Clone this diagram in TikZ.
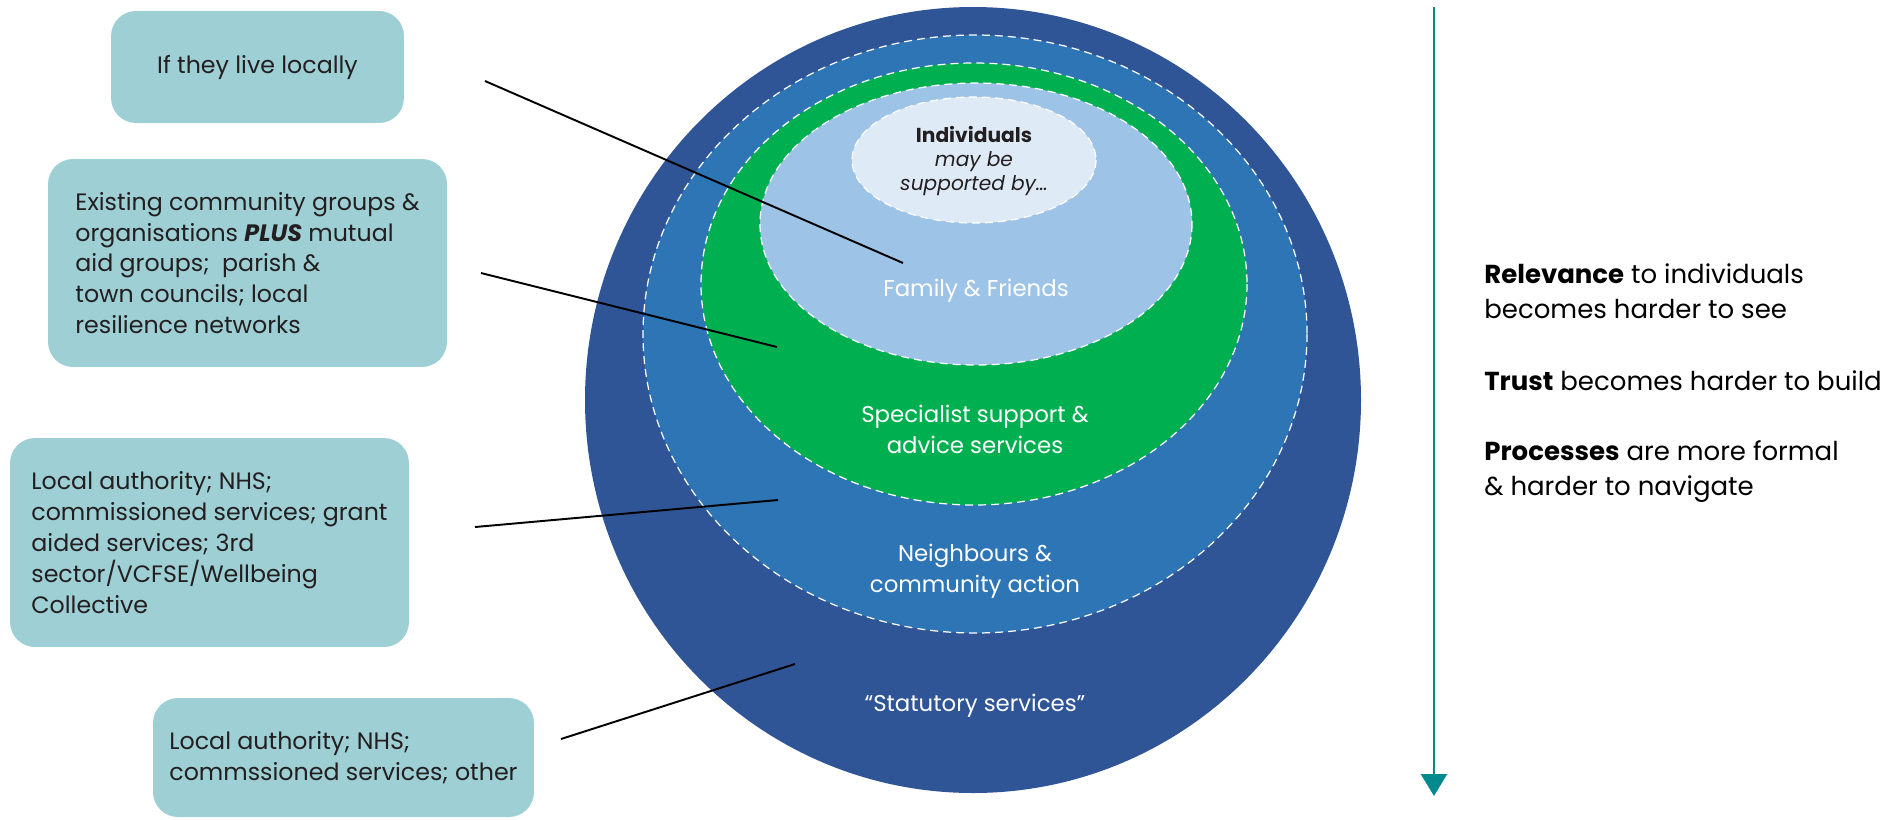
\documentclass[tikz,border=0pt]{standalone}
\usepackage{fontspec}
\setmainfont{Poppins}
\usepackage{tikz}
\usetikzlibrary{arrows.meta}

\definecolor{statblue}{HTML}{2F5597}
\definecolor{commblue}{HTML}{2E75B6}
\definecolor{specgreen}{HTML}{00B050}
\definecolor{famblue}{HTML}{9DC3E6}
\definecolor{indblue}{HTML}{DEEBF7}
\definecolor{boxteal}{HTML}{9DCFD4}
\definecolor{arrowteal}{HTML}{00898F}
\definecolor{ink}{HTML}{231F20}

\begin{document}
\begin{tikzpicture}[x=0.02cm, y=-0.02cm,
  ring/.style={draw=white, line width=0.7pt, dash pattern=on 0.16cm off 0.1cm},
  callout/.style={fill=boxteal, rounded corners=0.5cm, align=left, text=ink,
    font=\fontsize{13.5}{17.6}\selectfont},
  tag/.style={text=white, align=center, font=\fontsize{13}{17.6}\selectfont},
  leader/.style={draw=black, line width=1.1pt},
  effect/.style={anchor=west, align=left, inner sep=0pt, text=black,
    font=\fontsize{14.8}{19.9}\selectfont}]
  \useasboundingbox (0,0) rectangle (1901,819);

  % nested circles of support
  \fill[statblue] (973,400) ellipse [x radius=388, y radius=393];
  \filldraw[fill=commblue, ring] (975,334) ellipse [x radius=332, y radius=299];
  \filldraw[fill=specgreen, ring] (974,284) ellipse [x radius=273, y radius=221];
  \filldraw[fill=famblue, ring] (976,224) ellipse [x radius=216, y radius=141];
  \filldraw[fill=indblue, ring] (974,160) ellipse [x radius=122, y radius=63];

  \node[align=center, text=ink, font=\fontsize{11.5}{13.9}\selectfont] (ind) at (974,161)
    {\textbf{Individuals}\\\textit{may be}\\\textit{supported by\ldots}};
  \node[tag] (fam) at (976,291) {Family \& Friends};
  \node[tag] (spec) at (975,429) {Specialist support \&\\advice services};
  \node[tag] (neigh) at (975,571) {Neighbours \&\\community action};
  \node[tag] (stat) at (975,706) {“Statutory services”};

  % who sits in each ring
  \node[callout, minimum width=5.86cm, minimum height=2.24cm] (local) at (257.5,67)
    {If they live locally};
  \node[callout, minimum width=7.98cm, minimum height=4.16cm] (groups) at (247.5,263)
    {Existing community groups \&\\organisations \textbf{\textit{PLUS}} mutual\\aid groups;~ parish \&\\town councils; local\\resilience networks};
  \node[callout, minimum width=7.98cm, minimum height=4.18cm] (funded) at (209.5,542.5)
    {Local authority; NHS;\\commissioned services; grant\\aided services; 3rd\\sector/VCFSE/Wellbeing\\Collective};
  \node[callout, minimum width=7.62cm, minimum height=2.38cm] (statut) at (343.5,757.5)
    {Local authority; NHS;\\commssioned services; other};

  \coordinate (l1a) at (485,81);  \coordinate (l1b) at (903,263);
  \coordinate (l2a) at (481,273); \coordinate (l2b) at (777,347);
  \coordinate (l3a) at (475,527); \coordinate (l3b) at (778,500);
  \coordinate (l4a) at (561,739); \coordinate (l4b) at (795,664);
  \draw[leader] (l1a) -- (l1b);
  \draw[leader] (l2a) -- (l2b);
  \draw[leader] (l3a) -- (l3b);
  \draw[leader] (l4a) -- (l4b);

  % moving outwards
  \coordinate (down0) at (1434,7);
  \coordinate (down1) at (1434,796);
  \draw[arrowteal, line width=1.3pt, -{Triangle[width=0.52cm,length=0.44cm]}] (down0) -- (down1);

  \node[effect] (rel) at (1484,291) {\textbf{Relevance} to individuals\\becomes harder to see};
  \node[effect] (trust) at (1484,380.5) {\textbf{Trust} becomes harder to build};
  \node[effect] (proc) at (1484,472) {\textbf{Processes} are more formal\\\& harder to navigate};
\end{tikzpicture}
\end{document}
